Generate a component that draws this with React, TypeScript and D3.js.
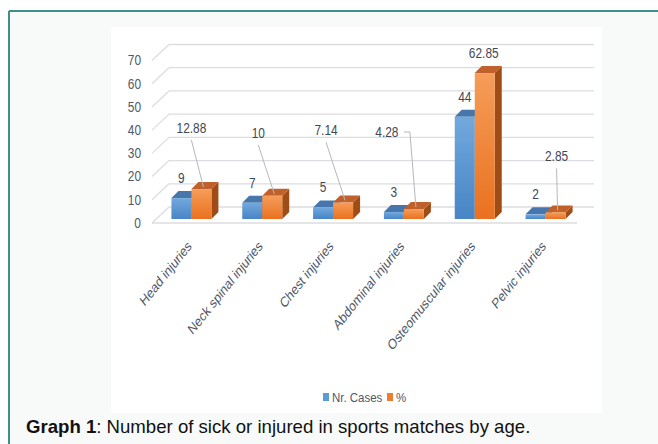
import React from "react";
import * as d3 from "d3";

const categories = [
  "Head injuries",
  "Neck spinal injuries",
  "Chest injuries",
  "Abdominal injuries",
  "Osteomuscular injuries",
  "Pelvic injuries",
];
const nrCases = [9, 7, 5, 3, 44, 2];
const percent = [12.88, 10, 7.14, 4.28, 62.85, 2.85];
const yTicks = [0, 10, 20, 30, 40, 50, 60, 70];
const seriesNames = ["Nr. Cases", "%"];

// where the % labels were dragged to (pixels from the bar top) and their leader style
const pctLabelShift = [
  [-10, -61],
  [-14, -63],
  [-17, -72],
  [-27, -77],
  [-1, -20],
  [1, -56],
];
const pctLeader = ["line", "line", "line", "elbow", "none", "line"];

const W = 658;
const H = 444;
const floorLeft = 152;
const floorRight = 577;
const floorY = 223;
const depth = { dx: 17, dy: -16 }; // back wall offset
const barShift = { dx: 4, dy: -4 }; // bars stand a bit behind the floor front
const barDepth = 7;
const barW = 20;
const sx = 0.85; // chart text is horizontally squeezed

const chartFont = "'Liberation Sans', Arial, sans-serif";
const axisColor = "#4f5868";
const labelColor = "#404857";
const gridColor = "#dcdde0";

const colors = {
  blue: { top: "#4676ab", side: "#3a6690", from: "#72a9dd", to: "#4885c6" },
  orange: { top: "#c0612c", side: "#a04c17", from: "#f59d5a", to: "#ea711f" },
};

const App = () => {
  const yScale = d3.scaleLinear().domain([0, 70]).range([floorY, 60.5]);
  const x0 = d3
    .scaleBand()
    .domain(categories)
    .range([floorLeft + barShift.dx, floorRight + barShift.dx]);
  const x1 = d3.scaleBand().domain(seriesNames).range([0, barW * 2]);

  const barX = (i, s) =>
    x0(categories[i]) + (x0.bandwidth() - barW * 2) / 2 + x1(s);
  const barTop = (v) => yScale(v) + barShift.dy;
  const barBottom = floorY + barShift.dy;

  const drawBar = (x, v, c, key) => {
    const yT = barTop(v);
    const d = barDepth;
    return (
      <g key={key}>
        <path
          d={`M${x + barW},${yT} L${x + barW + d},${yT - d} L${x + barW + d},${barBottom - d} L${x + barW},${barBottom} Z`}
          fill={c.side}
        />
        <path
          d={`M${x},${yT} L${x + d},${yT - d} L${x + barW + d},${yT - d} L${x + barW},${yT} Z`}
          fill={c.top}
        />
        <rect
          x={x}
          y={yT}
          width={barW}
          height={barBottom - yT}
          fill={`url(#grad-${key.split("-")[0]})`}
        />
      </g>
    );
  };

  return (
    <svg
      width={W}
      height={H}
      style={{ position: "absolute", left: 0, top: 0, background: "#fff" }}
    >
      <defs>
        {Object.entries(colors).map(([k, c]) => (
          <linearGradient key={k} id={`grad-${k}`} x1="0" y1="0" x2="0" y2="1">
            <stop offset="0%" stopColor={c.from} />
            <stop offset="100%" stopColor={c.to} />
          </linearGradient>
        ))}
      </defs>

      {/* figure frame */}
      <rect x={9} y={11} width={W - 9} height={H - 11} fill="#f8fafa" />
      <line x1={9} y1={11} x2={W} y2={11} stroke="#3f8f8b" strokeWidth={2} />
      <line x1={9} y1={11} x2={9} y2={H} stroke="#3f8f8b" strokeWidth={2} />
      <rect x={111} y={27} width={491} height={386} fill="#fff" />

      {/* gridlines: back wall + left side */}
      <g stroke={gridColor} strokeWidth={1.3} fill="none">
        {yTicks.map((t) => (
          <g key={t}>
            <line
              x1={floorLeft + depth.dx}
              y1={yScale(t) + depth.dy}
              x2={594}
              y2={yScale(t) + depth.dy}
            />
            <line
              x1={floorLeft}
              y1={yScale(t)}
              x2={floorLeft + depth.dx}
              y2={yScale(t) + depth.dy}
            />
          </g>
        ))}
        <line x1={floorLeft} y1={floorY} x2={floorRight} y2={floorY} />
      </g>

      {/* y axis labels */}
      <g fontFamily={chartFont} fontSize={14} fill={axisColor}>
        {yTicks.map((t) => (
          <text
            key={t}
            transform={`translate(141,${yScale(t)}) scale(${sx},1)`}
            textAnchor="end"
            dominantBaseline="central"
          >
            {t}
          </text>
        ))}
      </g>

      {/* bars */}
      {categories.map((cat, i) => (
        <g key={cat}>
          {drawBar(barX(i, seriesNames[0]), nrCases[i], colors.blue, `blue-${i}`)}
          {drawBar(barX(i, seriesNames[1]), percent[i], colors.orange, `orange-${i}`)}
        </g>
      ))}

      {/* leader lines */}
      <g stroke="#b4b8be" strokeWidth={1} fill="none">
        {percent.map((v, i) => {
          const bx = barX(i, seriesNames[1]) + barW / 2 + 2;
          const by = barTop(v) - 2;
          const lx = bx - 2 + pctLabelShift[i][0];
          const ly = barTop(v) + pctLabelShift[i][1];
          if (pctLeader[i] === "none") return null;
          if (pctLeader[i] === "elbow")
            return (
              <path
                key={i}
                d={`M${lx + 17},${ly} L${lx + 23},${ly} L${bx},${by}`}
              />
            );
          return <line key={i} x1={lx} y1={ly + 12} x2={bx} y2={by} />;
        })}
      </g>

      {/* data labels */}
      <g fontFamily={chartFont} fontSize={14} fill={labelColor}>
        {nrCases.map((v, i) => (
          <text
            key={`c${i}`}
            transform={`translate(${barX(i, seriesNames[0]) + barW / 2},${barTop(v) - 20}) scale(${sx},1)`}
            textAnchor="middle"
            dominantBaseline="central"
          >
            {v}
          </text>
        ))}
        {percent.map((v, i) => (
          <text
            key={`p${i}`}
            transform={`translate(${barX(i, seriesNames[1]) + barW / 2 + pctLabelShift[i][0]},${barTop(v) + pctLabelShift[i][1]}) scale(${sx},1)`}
            textAnchor="middle"
            dominantBaseline="central"
          >
            {v}
          </text>
        ))}
      </g>

      {/* category labels */}
      <g fontFamily={chartFont} fontSize={14.5} fill={axisColor}>
        {categories.map((cat) => (
          <text
            key={cat}
            transform={`translate(${x0(cat) + x0.bandwidth() / 2 + 1},247) scale(0.8,1) rotate(-45)`}
            textAnchor="end"
          >
            {cat}
          </text>
        ))}
      </g>

      {/* legend */}
      <g fontFamily={chartFont} fontSize={13.5} fill={axisColor}>
        <rect x={323} y={393} width={6} height={8} fill="#5b9bd5" />
        <text
          transform={`translate(332,397.5) scale(${sx},1)`}
          dominantBaseline="central"
        >
          {seriesNames[0]}
        </text>
        <rect x={387} y={393} width={6} height={8} fill="#ed7d31" />
        <text
          transform={`translate(396,397.5) scale(${sx},1)`}
          dominantBaseline="central"
        >
          {seriesNames[1]}
        </text>
      </g>

      {/* caption */}
      <text
        x={26}
        y={433}
        fontFamily="'Liberation Sans', Arial, sans-serif"
        fontSize={18.6}
        fill="#111"
      >
        <tspan fontWeight="bold">Graph 1</tspan>
        <tspan>: Number of sick or injured in sports matches by age.</tspan>
      </text>
    </svg>
  );
};

export default App;
